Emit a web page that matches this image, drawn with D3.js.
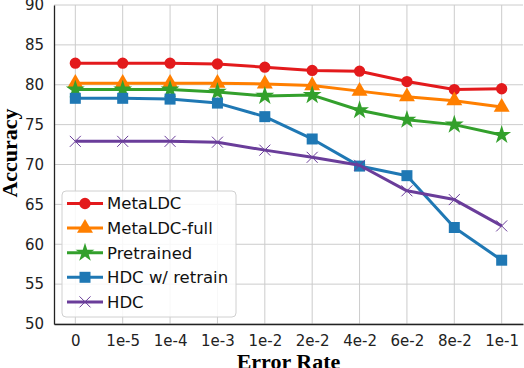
<!DOCTYPE html>
<html>
<head>
<meta charset="utf-8">
<script src="https://cdn.jsdelivr.net/npm/d3@7"></script>
<style>
  body { margin: 0; background: #fff; }
  .tick text { font-family: "DejaVu Sans", sans-serif; font-size: 15px; fill: #222; }
  .axis-label { font-family: "Liberation Serif", "Times New Roman", serif; font-weight: bold; font-size: 22px; fill: #000; }
  .legend text { font-family: "DejaVu Sans", sans-serif; font-size: 16.5px; fill: #111; }
</style>
</head>
<body>
<div id="chart"></div>
<script>
var categories = ["0", "1e-5", "1e-4", "1e-3", "1e-2", "2e-2", "4e-2", "6e-2", "8e-2", "1e-1"];
var metaLDC = [82.7, 82.7, 82.7, 82.6, 82.2, 81.8, 81.7, 80.4, 79.4, 79.5];
var metaLDCFull = [80.2, 80.2, 80.2, 80.2, 80.1, 79.9, 79.2, 78.5, 78.0, 77.2];
var pretrained = [79.4, 79.4, 79.4, 79.1, 78.6, 78.7, 76.8, 75.6, 75.0, 73.7];
var hdcRetrain = [78.3, 78.3, 78.2, 77.7, 76.0, 73.2, 69.8, 68.6, 62.1, 58.0];
var hdc = [72.9, 72.9, 72.9, 72.8, 71.8, 70.9, 69.9, 66.7, 65.6, 62.3];
var yTicks = [50, 55, 60, 65, 70, 75, 80, 85, 90];

var series = [
  { name: "MetaLDC", values: metaLDC, color: "#e31a1c", marker: "circle" },
  { name: "MetaLDC-full", values: metaLDCFull, color: "#ff7f00", marker: "triangle" },
  { name: "Pretrained", values: pretrained, color: "#33a02c", marker: "star" },
  { name: "HDC w/ retrain", values: hdcRetrain, color: "#1f78b4", marker: "square" },
  { name: "HDC", values: hdc, color: "#6a3d9a", marker: "x" }
];

var totalW = 524, totalH = 368;
var margin = { top: 5, right: 1, bottom: 44, left: 54 };
var width = totalW - margin.left - margin.right;
var height = totalH - margin.top - margin.bottom;

var svg = d3.select("#chart").append("svg")
  .attr("width", totalW)
  .attr("height", totalH)
  .append("g")
  .attr("transform", "translate(" + margin.left + "," + margin.top + ")");

// matplotlib-like 5% margins on the category index
var x = d3.scaleLinear()
  .domain([-0.45, categories.length - 1 + 0.45])
  .range([0, width]);

var y = d3.scaleLinear()
  .domain([50, 90])
  .range([height, 0]);

// grid
svg.append("g").selectAll("line.hg")
  .data(yTicks).enter().append("line")
  .attr("x1", 0).attr("x2", width)
  .attr("y1", function(d){ return y(d); })
  .attr("y2", function(d){ return y(d); })
  .attr("stroke", "#cccccc").attr("stroke-width", 1);

svg.append("g").selectAll("line.vg")
  .data(categories).enter().append("line")
  .attr("x1", function(d, i){ return x(i); })
  .attr("x2", function(d, i){ return x(i); })
  .attr("y1", 0).attr("y2", height)
  .attr("stroke", "#cccccc").attr("stroke-width", 1);

// axes
var xAxis = d3.axisBottom(x)
  .tickValues(d3.range(categories.length))
  .tickFormat(function(i){ return categories[i]; })
  .tickSize(0).tickPadding(11);
var yAxis = d3.axisLeft(y).tickValues(yTicks).tickSize(0).tickPadding(10);

var gx = svg.append("g").attr("transform", "translate(0," + height + ")").call(xAxis);
var gy = svg.append("g").call(yAxis);
gx.select(".domain").attr("stroke", "#222").attr("stroke-width", 1.3);
gy.select(".domain").attr("stroke", "#222").attr("stroke-width", 1.3);

// markers
function markerPath(type) {
  if (type === "circle") return d3.symbol(d3.symbolCircle, 100)();
  if (type === "square") return d3.symbol(d3.symbolSquare, 121)();
  if (type === "triangle") return d3.symbol(d3.symbolTriangle, 110)();
  if (type === "star") return d3.symbol(d3.symbolStar, 110)();
  return "M-5.5,-5.5L5.5,5.5M-5.5,5.5L5.5,-5.5";
}

function drawMarker(g, s) {
  var p = g.append("path").attr("d", markerPath(s.marker));
  if (s.marker === "x") {
    p.attr("fill", "none").attr("stroke", s.color).attr("stroke-width", 1);
  } else {
    p.attr("fill", s.color).attr("stroke", "none");
  }
}

var line = d3.line()
  .x(function(d, i){ return x(i); })
  .y(function(d){ return y(d); });

series.forEach(function(s){
  svg.append("path")
    .datum(s.values)
    .attr("fill", "none")
    .attr("stroke", s.color)
    .attr("stroke-width", 3)
    .attr("stroke-linejoin", "round")
    .attr("d", line);

  s.values.forEach(function(v, i){
    var g = svg.append("g").attr("transform", "translate(" + x(i) + "," + y(v) + ")");
    drawMarker(g, s);
  });
});

// axis labels
svg.append("text")
  .attr("class", "axis-label")
  .attr("text-anchor", "middle")
  .attr("x", width / 2)
  .attr("y", totalH - margin.top + 1)
  .text("Error Rate");

svg.append("text")
  .attr("class", "axis-label")
  .attr("text-anchor", "middle")
  .attr("transform", "translate(" + (17 - margin.left) + "," + (153 - margin.top) + ")rotate(-90)")
  .text("Accuracy");

// legend
var legend = svg.append("g").attr("class", "legend")
  .attr("transform", "translate(" + (62 - margin.left) + "," + (191 - margin.top) + ")");

legend.append("rect")
  .attr("width", 174).attr("height", 126)
  .attr("rx", 4).attr("ry", 4)
  .attr("fill", "#ffffff").attr("fill-opacity", 0.85)
  .attr("stroke", "#d0d0d0").attr("stroke-width", 1);

series.forEach(function(s, i){
  var row = legend.append("g").attr("transform", "translate(0," + (12.5 + i * 24.6) + ")");
  row.append("line")
    .attr("x1", 5).attr("x2", 41)
    .attr("stroke", s.color).attr("stroke-width", 3);
  var m = row.append("g").attr("transform", "translate(23,0)");
  drawMarker(m, s);
  row.append("text")
    .attr("x", 45).attr("dy", "0.36em")
    .text(s.name);
});
</script>
</body>
</html>
